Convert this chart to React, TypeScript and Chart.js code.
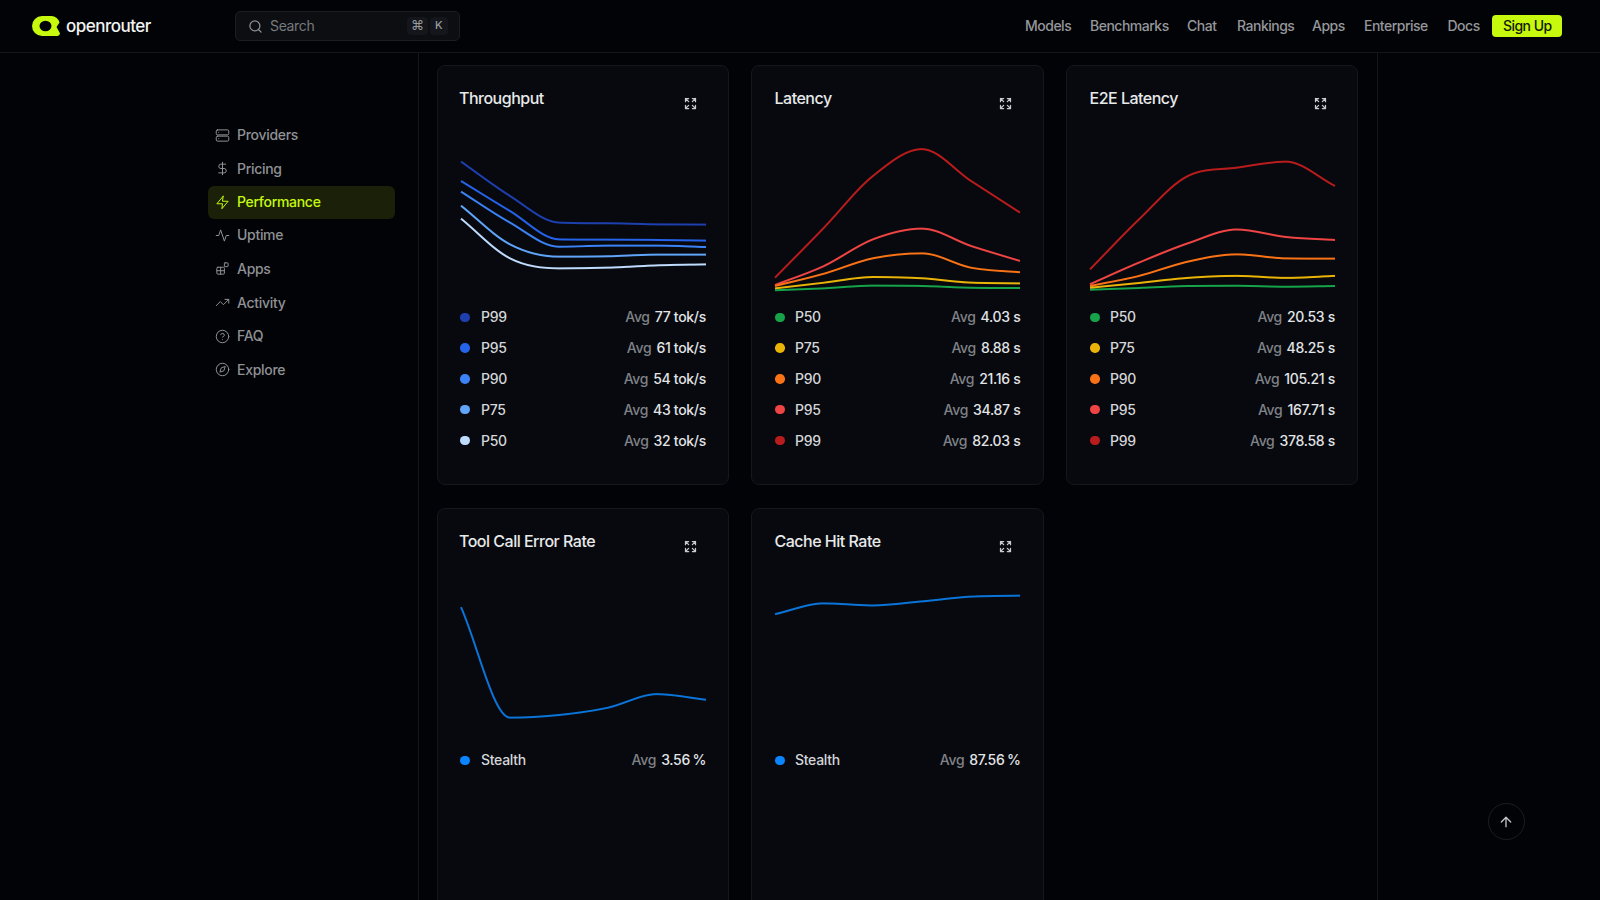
import React, { useEffect, useRef } from "react";
import { Chart, registerables } from "chart.js";

Chart.register(...registerables);

const periods = ["T1", "T2", "T3", "T4", "T5", "T6"];

const throughputP99 = [139.9, 103, 74.4, 73.7, 72.6, 72.3];
const throughputP95 = [119.1, 86.9, 56.5, 56.2, 55.8, 55.1];
const throughputP90 = [107.7, 74.4, 48.6, 49.7, 49.7, 48.3];
const throughputP75 = [92.6, 51.1, 37.9, 38.3, 40.1, 40.1];
const throughputP50 = [78.7, 36.1, 25.4, 26.1, 28.6, 29.7];

const latencyP50 = [1.6, 3.4, 5.9, 5.6, 4, 3.7];
const latencyP75 = [3.4, 8.7, 14, 12.8, 8.7, 8.1];
const latencyP90 = [5.6, 17.1, 31.5, 36.1, 22.7, 18.4];
const latencyP95 = [6.5, 24.3, 49.2, 59.2, 43, 29];
const latencyP99 = [13.4, 60.1, 108.4, 133.4, 103.7, 74.1];

const e2eP50 = [9, 16, 24, 25, 21, 24];
const e2eP75 = [17, 36, 56, 64, 56, 64];
const e2eP90 = [24, 64, 121, 150, 134, 133];
const e2eP95 = [31, 117, 194, 249, 219, 207];
const e2eP99 = [90, 289, 462, 495, 519, 422];

const toolErrorStealth = [10.16, 1.38, 1.59, 2.17, 3.25, 2.8];
const cacheHitStealth = [80, 87.2, 85.8, 88.5, 91.6, 92.3];

const navLinks: [string, number][] = [["Models", 1025], ["Benchmarks", 1090], ["Chat", 1187], ["Rankings", 1237], ["Apps", 1312], ["Enterprise", 1364], ["Docs", 1447.5]];

const FONT = "Inter, 'Noto Sans', sans-serif";
const LIME = "#c6f90d";

type S = { name: string; data: number[]; color: string; line?: string; avg: string; unit: string };
type CardT = { title: string; x: number; y: number; w: number; max: number; series: S[] };

const blue = ["#1e40af", "#2563eb", "#3b82f6", "#60a5fa", "#bfdbfe"];
const heat = ["#16a34a", "#eab308", "#f97316", "#ef4444", "#b91c1c"];
const stealthDot = "#0a84ff";
const stealthLine = "#0b74d9";

const cards: CardT[] = [
  { title: "Throughput", x: 437, y: 65, w: 292, max: 162, series: [
    { name: "P99", data: throughputP99, color: blue[0], avg: "77", unit: "tok/s" },
    { name: "P95", data: throughputP95, color: blue[1], avg: "61", unit: "tok/s" },
    { name: "P90", data: throughputP90, color: blue[2], avg: "54", unit: "tok/s" },
    { name: "P75", data: throughputP75, color: blue[3], avg: "43", unit: "tok/s" },
    { name: "P50", data: throughputP50, color: blue[4], avg: "32", unit: "tok/s" },
  ] },
  { title: "Latency", x: 751, y: 65, w: 293, max: 141, series: [
    { name: "P50", data: latencyP50, color: heat[0], avg: "4.03", unit: "s" },
    { name: "P75", data: latencyP75, color: heat[1], avg: "8.88", unit: "s" },
    { name: "P90", data: latencyP90, color: heat[2], avg: "21.16", unit: "s" },
    { name: "P95", data: latencyP95, color: heat[3], avg: "34.87", unit: "s" },
    { name: "P99", data: latencyP99, color: heat[4], avg: "82.03", unit: "s" },
  ] },
  { title: "E2E Latency", x: 1066, y: 65, w: 292, max: 601, series: [
    { name: "P50", data: e2eP50, color: heat[0], avg: "20.53", unit: "s" },
    { name: "P75", data: e2eP75, color: heat[1], avg: "48.25", unit: "s" },
    { name: "P90", data: e2eP90, color: heat[2], avg: "105.21", unit: "s" },
    { name: "P95", data: e2eP95, color: heat[3], avg: "167.71", unit: "s" },
    { name: "P99", data: e2eP99, color: heat[4], avg: "378.58", unit: "s" },
  ] },
  { title: "Tool Call Error Rate", x: 437, y: 508, w: 292, max: 12, series: [
    { name: "Stealth", data: toolErrorStealth, color: stealthDot, line: stealthLine, avg: "3.56", unit: "%" },
  ] },
  { title: "Cache Hit Rate", x: 751, y: 508, w: 293, max: 100, series: [
    { name: "Stealth", data: cacheHitStealth, color: stealthDot, line: stealthLine, avg: "87.56", unit: "%" },
  ] },
];

function LineCanvas({ series, max, left }: { series: S[]; max: number; left: number }) {
  const ref = useRef<HTMLCanvasElement>(null);
  useEffect(() => {
    const chart = new Chart(ref.current!, {
      type: "line",
      data: {
        labels: periods,
        datasets: series.map((s) => ({
          label: s.name,
          data: s.data,
          borderColor: s.line || s.color,
          borderWidth: 2,
          pointRadius: 0,
          cubicInterpolationMode: "monotone" as const,
          fill: false,
        })),
      },
      options: {
        animation: false,
        responsive: false,
        devicePixelRatio: 2,
        layout: { padding: 5 },
        plugins: { legend: { display: false }, tooltip: { enabled: false } },
        scales: {
          x: { display: false },
          y: { display: false, min: 0, max },
        },
      },
    });
    return () => chart.destroy();
  }, []);
  return <canvas ref={ref} width={255} height={161} style={{ position: "absolute", left, top: 69.5, width: 255, height: 161 }} />;
}

function Icon({ x, y, size = 16, color = "#8f9195", sw = 1.6, children }: any) {
  return (
    <svg width={size} height={size} viewBox="0 0 24 24" fill="none" stroke={color} strokeWidth={sw} strokeLinecap="round" strokeLinejoin="round"
      style={{ position: "absolute", left: x - size / 2, top: y - size / 2 }}>
      {children}
    </svg>
  );
}

function Text({ x, y, size = 14, color = "#8f9195", weight = 500, ls = -0.1, right, children }: any) {
  const style: React.CSSProperties = {
    position: "absolute", top: y - 10, lineHeight: "20px", height: 20, fontSize: size, color, fontWeight: weight,
    letterSpacing: ls, whiteSpace: "nowrap", fontFamily: FONT,
  };
  if (right !== undefined) style.right = right; else style.left = x;
  return <div style={style}>{children}</div>;
}

function Expand({ x, y }: { x: number; y: number }) {
  return (
    <Icon x={x} y={y} size={15} color="#c9cbcf" sw={2}>
      <path d="M4 9V4h5M4 4l5 5M20 9V4h-5M20 4l-5 5M4 15v5h5M4 20l5-5M20 15v5h-5M20 20l-5-5" />
    </Icon>
  );
}

function Card({ c }: { c: CardT }) {
  const first = c.x === 437;
  return (
    <div style={{ position: "absolute", left: c.x, top: c.y, width: c.w, height: c.y > 100 ? 500 : 420, boxSizing: "border-box", background: "#07090e", border: "1px solid #15171c", borderRadius: 8 }}>
      <Text x={first ? 21 : 22.5} y={32} size={16} color="#e8e9ea" ls={-0.5}>{c.title}</Text>
      <Expand x={first ? 252 : 253} y={37} />
      <LineCanvas series={c.series} max={c.max} left={first ? 17.5 : 18} />
      {c.series.map((s, i) => (
        <React.Fragment key={s.name}>
          <div style={{ position: "absolute", left: first ? 22 : 23, top: 246.5 + i * 30.8, width: 9.5, height: 9.5, borderRadius: "50%", background: s.color }} />
          <Text x={43} y={251.3 + i * 30.8} size={14} color="#d4d6d9" ls={-0.3}>{s.name}</Text>
          <Text right={c.w === 292 ? 22 : 22.5} y={251.3 + i * 30.8} size={14} color="#7f8287" ls={-0.3}>
            Avg<span style={{ color: "#e2e4e6", marginLeft: 5, wordSpacing: s.unit === "%" ? -1 : 0 }}>{s.avg} {s.unit}</span>
          </Text>
        </React.Fragment>
      ))}
    </div>
  );
}

const sidebar: [string, number, React.ReactNode][] = [
  ["Providers", 135, <><rect x="2" y="3" width="20" height="8" rx="2" /><rect x="2" y="13" width="20" height="8" rx="2" /><path d="M6 7h.01M6 17h.01" /></>],
  ["Pricing", 168.5, <><path d="M12 2v20" /><path d="M17 5H9.5a3.5 3.5 0 0 0 0 7h5a3.5 3.5 0 0 1 0 7H6" /></>],
  ["Performance", 202, <path d="M13 2 3 14h9l-1 8 10-12h-9l1-8z" />],
  ["Uptime", 235, <path d="M22 12h-4l-3 9L9 3l-3 9H2" />],
  ["Apps", 268.5, <><rect x="3" y="10" width="12" height="11" rx="1.5" /><path d="M9 10v11M3 15.5h12" /><rect x="15" y="3" width="6" height="6" rx="1" /></>],
  ["Activity", 302.5, <><path d="M22 7 13.5 15.5 8.5 10.5 2 17" /><path d="M16 7h6v6" /></>],
  ["FAQ", 336, <><circle cx="12" cy="12" r="10" /><path d="M9.09 9a3 3 0 0 1 5.83 1c0 2-3 3-3 3" /><path d="M12 17h.01" /></>],
  ["Explore", 369.5, <><circle cx="12" cy="12" r="10" /><path d="M16.24 7.76 14.12 14.12 7.76 16.24 9.88 9.88z" /></>],
];

export default function App() {
  return (
    <div style={{ position: "fixed", left: 0, top: 0, width: 1600, height: 900, overflow: "hidden", background: "#020306", fontFamily: FONT }}>
      <div style={{ position: "absolute", left: 0, top: 51.5, width: 1600, height: 1, background: "#13151a" }} />
      <div style={{ position: "absolute", left: 418, top: 52, width: 1, height: 848, background: "#13151a" }} />
      <div style={{ position: "absolute", left: 1377, top: 52, width: 1, height: 848, background: "#13151a" }} />

      <svg width="28" height="20" viewBox="0 0 28 20" style={{ position: "absolute", left: 31.500, top: 16 }}>
        <path d="M10 0H19A8.500 8.500 0 0 1 27.500 6.500L24.500 11L27.600 16.500A2.400 2.400 0 0 1 25.500 20H10A10 10 0 0 1 10 0Z" fill={LIME} />
        <ellipse cx="13.500" cy="10" rx="6" ry="5.200" fill="#020306" />
      </svg>
      <Text x={66} y={25.5} size={17} color="#f2f3f3" weight={500} ls={-0.5}>openrouter</Text>

      <div style={{ position: "absolute", left: 235, top: 11, width: 225, height: 30, boxSizing: "border-box", background: "#0c0e12", border: "1px solid #1b1d22", borderRadius: 5 }} />
      <Icon x={255} y={26} size={15} color="#8f9195" sw={2}><circle cx="11" cy="11" r="8" /><path d="m21 21-4.300-4.300" /></Icon>
      <Text x={270} y={26} size={14} color="#777a7f" weight={400} ls={-0.35}>Search</Text>
      <div style={{ position: "absolute", left: 407, top: 17, width: 21, height: 18, borderRadius: 4, background: "#14161b" }} />
      <div style={{ position: "absolute", left: 430, top: 17, width: 18, height: 18, borderRadius: 4, background: "#14161b" }} />
      <Text x={411} y={25} size={13} color="#9a9ca0" weight={400} ls={0}>⌘</Text>
      <Text x={435} y={25} size={11} color="#9a9ca0" ls={0}>K</Text>

      {navLinks.map(([t, x]) => <Text key={t} x={x} y={26} size={14} color="#95979b" ls={-0.5}>{t}</Text>)}
      <div style={{ position: "absolute", left: 1492, top: 15, width: 70, height: 22, borderRadius: 4, background: LIME }} />
      <Text x={1503} y={26} size={14} color="#141a02" ls={-0.55}>Sign Up</Text>

      <div style={{ position: "absolute", left: 208, top: 186, width: 187, height: 32.5, borderRadius: 6, background: "#1a2108" }} />
      {sidebar.map(([t, y, paths]) => {
        const col = t === "Performance" ? LIME : "#8f9195";
        return (
          <React.Fragment key={t}>
            <Icon x={222} y={y} size={15} color={col}>{paths}</Icon>
            <Text x={237} y={y} size={14} color={col} ls={-0.3}>{t}</Text>
          </React.Fragment>
        );
      })}

      {cards.map((c) => <Card key={c.title} c={c} />)}

      <div style={{ position: "absolute", left: 1487.5, top: 803, width: 37, height: 37, boxSizing: "border-box", borderRadius: "50%", border: "1px solid #1b1d21" }} />
      <Icon x={1506} y={822} size={16} color="#c2c4c7" sw={2}><path d="m5 12 7-7 7 7" /><path d="M12 19V5" /></Icon>
    </div>
  );
}
